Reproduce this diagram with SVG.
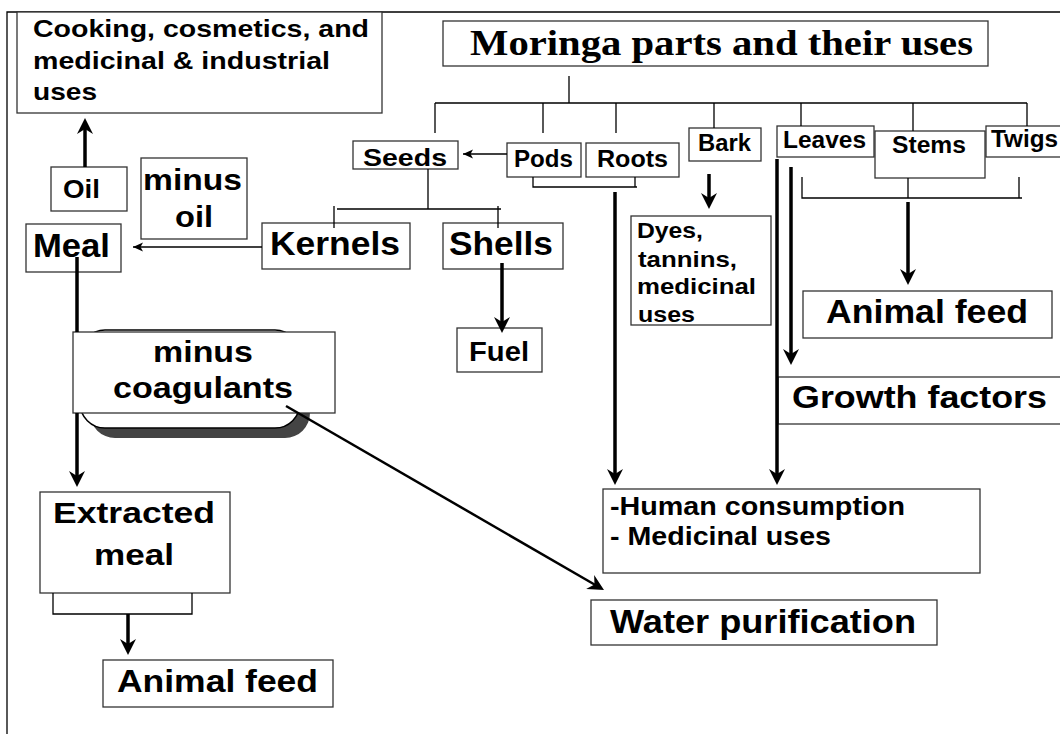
<svg xmlns="http://www.w3.org/2000/svg" width="1060" height="734" viewBox="0 0 1060 734">
<style>
.box{fill:#fff;stroke:#333;stroke-width:1.3}
.t{font-family:"Liberation Sans",Arial,sans-serif;font-weight:bold;fill:#000}
.thin{fill:none;stroke:#000;stroke-width:1.3}
.thick{fill:none;stroke:#000;stroke-width:3.5}
.diag{fill:none;stroke:#000;stroke-width:2.5}
</style>
<defs>
<marker id="ah" markerUnits="userSpaceOnUse" markerWidth="16" markerHeight="16" refX="10" refY="8" orient="auto"><path d="M0,0 L16,8 L0,16 L5,8 z" fill="#000"/></marker>
<marker id="ahs" markerUnits="userSpaceOnUse" markerWidth="11" markerHeight="10" refX="10" refY="5" orient="auto"><path d="M0,0.5 L10,5 L0,9.5 L2.5,5 z" fill="#000"/></marker>
</defs>
<rect width="1060" height="734" fill="#fff"/>
<polyline class="thin" points="7,734 7,12 1060,12" stroke-width="1.5"/>

<g id="title"><rect class="box" x="443" y="21" width="545" height="45"/><text x="470" y="55" font-family="'Liberation Serif','Times New Roman',serif" font-weight="bold" font-size="35" textLength="503" lengthAdjust="spacingAndGlyphs">Moringa parts and their uses</text></g>
<g id="cooking"><rect class="box" x="17" y="12" width="365" height="101"/><text class="t" font-size="24" lengthAdjust="spacingAndGlyphs"><tspan x="33" y="37" textLength="336" lengthAdjust="spacingAndGlyphs">Cooking, cosmetics, and</tspan><tspan x="33" y="69" textLength="297" lengthAdjust="spacingAndGlyphs">medicinal &amp; industrial</tspan><tspan x="33" y="100" textLength="64" lengthAdjust="spacingAndGlyphs">uses</tspan></text></g>
<g id="seeds"><rect class="box" x="353" y="141" width="105" height="28"/><text class="t" x="363" y="166" font-size="23" textLength="84" lengthAdjust="spacingAndGlyphs">Seeds</text></g>
<g id="pods"><rect class="box" x="507" y="143" width="74" height="34"/><text class="t" x="514" y="167" font-size="23" textLength="59" lengthAdjust="spacingAndGlyphs">Pods</text></g>
<g id="roots"><rect class="box" x="586" y="143" width="93" height="34"/><text class="t" x="597" y="167" font-size="23" textLength="71" lengthAdjust="spacingAndGlyphs">Roots</text></g>
<g id="bark"><rect class="box" x="689" y="128" width="72" height="33"/><text class="t" x="698" y="151" font-size="23" textLength="53" lengthAdjust="spacingAndGlyphs">Bark</text></g>
<g id="leaves"><rect class="box" x="777" y="126" width="97" height="31"/><text class="t" x="783" y="148" font-size="23" textLength="83" lengthAdjust="spacingAndGlyphs">Leaves</text></g>
<g id="stems"><rect class="box" x="875" y="131" width="110" height="47"/><text class="t" x="892" y="153" font-size="23" textLength="74" lengthAdjust="spacingAndGlyphs">Stems</text></g>
<g id="twigs"><rect class="box" x="986" y="126" width="80" height="31"/><text class="t" x="991" y="147" font-size="23" textLength="67" lengthAdjust="spacingAndGlyphs">Twigs</text></g>
<g id="oil"><rect class="box" x="51" y="167" width="76" height="44"/><text class="t" x="63" y="198" font-size="25" textLength="37" lengthAdjust="spacingAndGlyphs">Oil</text></g>
<g id="minus-oil"><rect class="box" x="141" y="158" width="106" height="81"/><text class="t" font-size="30"><tspan x="143" y="190" textLength="99" lengthAdjust="spacingAndGlyphs">minus</tspan><tspan x="175" y="227" textLength="38" lengthAdjust="spacingAndGlyphs">oil</tspan></text></g>
<g id="meal"><rect class="box" x="26" y="224" width="95" height="48"/><text class="t" x="33" y="257" font-size="33" textLength="77" lengthAdjust="spacingAndGlyphs">Meal</text></g>
<g id="kernels"><rect class="box" x="262" y="223" width="148" height="46"/><text class="t" x="270" y="255" font-size="33" textLength="130" lengthAdjust="spacingAndGlyphs">Kernels</text></g>
<g id="shells"><rect class="box" x="443" y="223" width="120" height="46"/><text class="t" x="449" y="255" font-size="33" textLength="104" lengthAdjust="spacingAndGlyphs">Shells</text></g>
<g id="fuel"><rect class="box" x="457" y="328" width="85" height="44"/><text class="t" x="469" y="361" font-size="27" textLength="60" lengthAdjust="spacingAndGlyphs">Fuel</text></g>
<g id="dyes"><rect class="box" x="631" y="216" width="140" height="109"/><text class="t" font-size="22"><tspan x="637" y="238" textLength="66" lengthAdjust="spacingAndGlyphs">Dyes,</tspan><tspan x="638" y="267" textLength="99" lengthAdjust="spacingAndGlyphs">tannins,</tspan><tspan x="637" y="294" textLength="119" lengthAdjust="spacingAndGlyphs">medicinal</tspan><tspan x="638" y="322" textLength="57" lengthAdjust="spacingAndGlyphs">uses</tspan></text></g>
<g id="animal-feed-right"><rect class="box" x="803" y="291" width="249" height="47"/><text class="t" x="826" y="323" font-size="33" textLength="202" lengthAdjust="spacingAndGlyphs">Animal feed</text></g>
<g id="growth"><rect class="box" x="778" y="377" width="290" height="47"/><text class="t" x="792" y="408" font-size="32" textLength="255" lengthAdjust="spacingAndGlyphs">Growth factors</text></g>
<g id="human"><rect class="box" x="603" y="489" width="377" height="84"/><text class="t" font-size="25"><tspan x="610" y="515" textLength="295" lengthAdjust="spacingAndGlyphs">-Human consumption</tspan><tspan x="610" y="545" textLength="221" lengthAdjust="spacingAndGlyphs">- Medicinal uses</tspan></text></g>
<g id="water"><rect class="box" x="591" y="600" width="346" height="45"/><text class="t" x="610" y="633" font-size="34" textLength="306" lengthAdjust="spacingAndGlyphs">Water purification</text></g>
<g id="coagulants"><rect x="90" y="340" width="220" height="98" rx="25" fill="#444"/><rect x="80" y="330" width="220" height="98" rx="25" fill="#fff" stroke="#000" stroke-width="1.5"/><rect class="box" x="73" y="332" width="262" height="81"/><text class="t" font-size="29"><tspan x="153" y="362" textLength="100" lengthAdjust="spacingAndGlyphs">minus</tspan><tspan x="113" y="398" textLength="180" lengthAdjust="spacingAndGlyphs">coagulants</tspan></text></g>
<g id="extracted"><rect class="box" x="40" y="492" width="190" height="101"/><text class="t" font-size="30"><tspan x="53" y="523" textLength="162" lengthAdjust="spacingAndGlyphs">Extracted</tspan><tspan x="94" y="565" textLength="80" lengthAdjust="spacingAndGlyphs">meal</tspan></text></g>
<g id="animal-feed-left"><rect class="box" x="103" y="660" width="230" height="47"/><text class="t" x="117" y="692" font-size="32" textLength="201" lengthAdjust="spacingAndGlyphs">Animal feed</text></g>

<g id="connectors">
<path class="thin" d="M569,76 V103 M435,103 H1027 M435,103 V133 M543,103 V133 M616,103 V133 M714,103 V128 M801,103 V126 M913,103 V131 M1027,103 V126"/>
<path class="thin" d="M533,177 V187 H637 M635,187 V177"/>
<path class="thin" d="M428,169 V209 M337,209 H501 M334,206 V228 M498,206 V228"/>
<path class="thin" d="M802,177 V198 H1022 M1019,177 V198 M908,178 V198"/>
<path class="thin" d="M53,593 V614 H192 V593"/>
<line class="thin" x1="507" y1="154" x2="463" y2="154" marker-end="url(#ahs)"/>
<line class="thin" x1="262" y1="247" x2="133" y2="247" marker-end="url(#ahs)"/>
<line class="thick" x1="85" y1="167" x2="85" y2="124" marker-end="url(#ah)"/>
<line class="thick" x1="502" y1="263" x2="502" y2="327" marker-end="url(#ah)"/>
<line class="thick" x1="709" y1="174" x2="709" y2="203" marker-end="url(#ah)"/>
<line class="thick" x1="615" y1="192" x2="615" y2="479" marker-end="url(#ah)"/>
<line class="thick" x1="777" y1="159" x2="777" y2="479" marker-end="url(#ah)"/>
<line class="thick" x1="791" y1="167" x2="791" y2="359" marker-end="url(#ah)"/>
<line class="thick" x1="908" y1="202" x2="908" y2="279" marker-end="url(#ah)"/>
<line class="thick" x1="77" y1="257" x2="77" y2="332"/>
<line class="thick" x1="77" y1="413" x2="77" y2="481" marker-end="url(#ah)"/>
<line class="thick" x1="128" y1="614" x2="128" y2="649" marker-end="url(#ah)"/>
<line class="diag" x1="286" y1="406" x2="598.8" y2="587" marker-end="url(#ah)"/>
</g>
</svg>
